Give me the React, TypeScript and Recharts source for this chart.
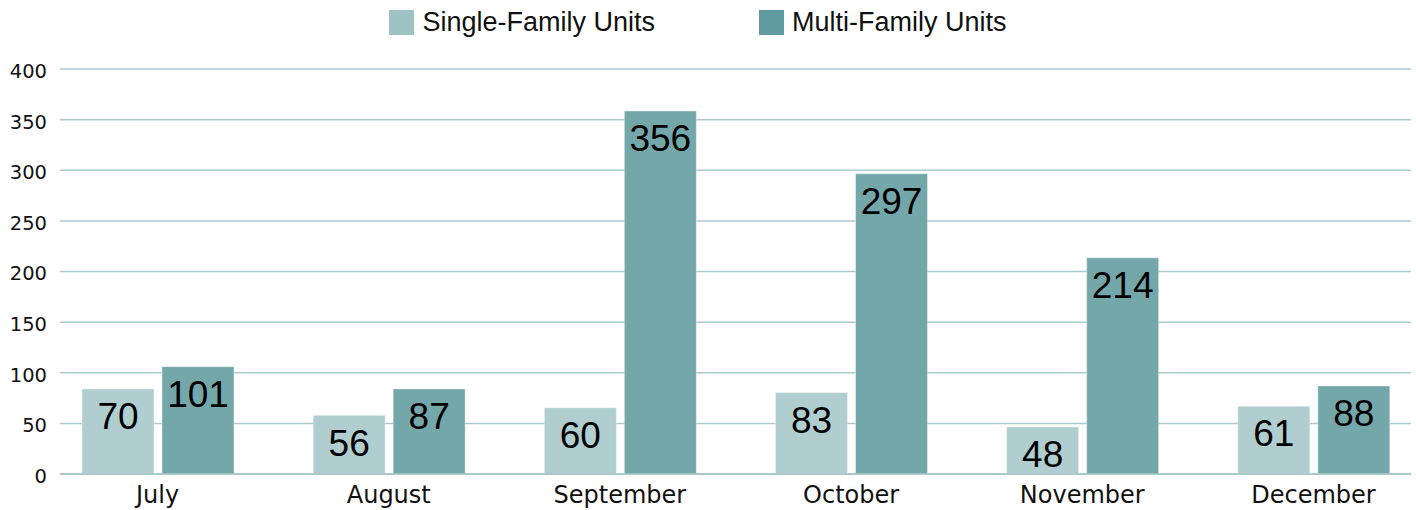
import { Bar, BarChart, CartesianGrid, LabelList, XAxis, YAxis } from "recharts";

const months = ["July", "August", "September", "October", "November", "December"];
// bar heights as drawn on the chart
const singleFamily = [84, 58, 65.5, 80.5, 46.5, 67];
const multiFamily = [106, 84, 358.5, 296.5, 213.5, 87];
// numbers printed inside the bars
const singleFamilyLabels = [70, 56, 60, 83, 48, 61];
const multiFamilyLabels = [101, 87, 356, 297, 214, 88];
const yTicks = [0, 50, 100, 150, 200, 250, 300, 350, 400];

const series = [
  { key: "single", label: "singleLabel", name: "Single-Family Units", bar: "#b0cdcf", swatch: "#9dc3c5" },
  { key: "multi", label: "multiLabel", name: "Multi-Family Units", bar: "#74a7aa", swatch: "#5f9ba0" },
];

const data = months.map((month, i) => ({
  month,
  single: singleFamily[i],
  multi: multiFamily[i],
  singleLabel: singleFamilyLabels[i],
  multiLabel: multiFamilyLabels[i],
}));

function Legend() {
  return (
    <div
      style={{
        position: "absolute",
        top: 10,
        left: -10,
        width: 1416,
        display: "flex",
        justifyContent: "center",
        gap: 104,
        fontFamily: "'Liberation Sans', Arial, sans-serif",
        fontSize: 27,
        color: "#111",
        lineHeight: "25px",
      }}
    >
      {series.map((s) => (
        <div key={s.key} style={{ display: "flex", alignItems: "center", gap: 8 }}>
          <span style={{ width: 25, height: 25, background: s.swatch, display: "inline-block" }} />
          <span>{s.name}</span>
        </div>
      ))}
    </div>
  );
}

export default function App() {
  return (
    <div style={{ position: "absolute", left: 0, top: 0, width: 1416, height: 510, background: "#fff" }}>
      <Legend />
      <BarChart
        width={1416}
        height={510}
        data={data}
        margin={{ top: 69, right: 5, bottom: 0, left: 0 }}
        barSize={72}
        barGap={8}
      >
        <CartesianGrid vertical={false} stroke="#abcacc" strokeWidth={1.5} />
        <XAxis
          dataKey="month"
          height={36}
          padding={{ left: -18, right: -18 }}
          axisLine={{ stroke: "#a3c3c5", strokeWidth: 1.5 }}
          tickLine={false}
          tickSize={0}
          tickMargin={12}
          tick={{ fontFamily: "'DejaVu Sans', sans-serif", fontSize: 24, fill: "#111" }}
        />
        <YAxis
          width={60}
          domain={[0, 400]}
          ticks={yTicks}
          axisLine={false}
          tickLine={false}
          tickSize={0}
          tickMargin={13}
          tick={{ fontFamily: "'DejaVu Sans', sans-serif", fontSize: 19.5, fill: "#111", dy: 2 }}
        />
        {series.map((s) => (
          <Bar
            key={s.key}
            dataKey={s.key}
            name={s.name}
            fill={s.bar}
            stroke="rgba(255,255,255,0.4)"
            strokeWidth={1}
            isAnimationActive={false}
          >
            <LabelList
              dataKey={s.label}
              position="insideTop"
              offset={14}
              style={{ fontFamily: "'Liberation Sans', Arial, sans-serif", fontSize: 37, fill: "#000" }}
            />
          </Bar>
        ))}
      </BarChart>
    </div>
  );
}
